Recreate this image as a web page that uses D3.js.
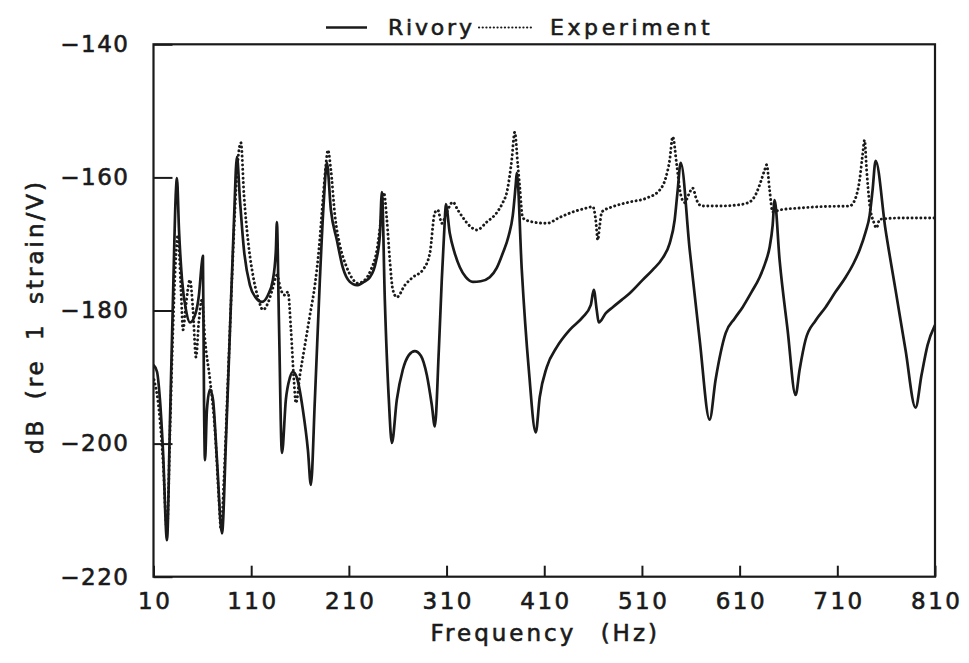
<!DOCTYPE html>
<html>
<head>
<meta charset="utf-8">
<script src="https://cdn.jsdelivr.net/npm/d3@7"></script>
<style>
  html, body { margin: 0; padding: 0; background: #fff; }
  svg { display: block; }
  text { font-family: "DejaVu Sans", sans-serif; fill: #1a1a1a; stroke: #1a1a1a; stroke-width: 0.6px; }
</style>
</head>
<body>
<svg id="chart" width="969" height="663"></svg>
<script>
// ---- data ----
const xTicks = [10, 110, 210, 310, 410, 510, 610, 710, 810];
const yTicks = [-140, -160, -180, -200, -220];
const seriesNames = ["Rivory", "Experiment"];

const rivoryHz = [10, 13.6, 16.6, 19.7, 23.8, 26.9, 29.9, 33.0, 34.0, 36.1, 39.2, 43.2, 47.3, 52.5, 56.5, 59.6, 60.6, 61.7, 62.7, 64.7, 67.8, 70.9, 75.0, 80.1, 84.2, 88.3, 92.4, 95.4, 98.5, 102.6, 108.7, 114.9, 121.0, 127.1, 132.2, 135.3, 136.3, 138.4, 141.5, 145.5, 149.6, 152.7, 156.8, 162.9, 168.1, 171.1, 175.2, 180.3, 184.4, 187.5, 191.6, 197.7, 203.9, 211.0, 218.2, 225.4, 231.5, 237.6, 241.7, 243.8, 246.8, 250.9, 254.0, 259.1, 265.2, 271.4, 277.5, 283.7, 289.8, 294.9, 298.0, 302.1, 305.1, 308.2, 309.2, 313.3, 318.4, 323.6, 329.7, 336.9, 345.0, 354.2, 361.4, 367.5, 373.7, 377.8, 380.8, 381.9, 387.0, 394.2, 401.3, 405.4, 412.6, 422.8, 436.1, 449.4, 457.6, 460.7, 463.7, 465.8, 473.0, 480.1, 489.3, 497.5, 510.8, 521.0, 531.3, 538.4, 543.5, 546.6, 549.7, 558.9, 569.1, 579.3, 585.4, 595.7, 604.9, 613.1, 622.3, 630.5, 636.6, 640.7, 643.8, 645.8, 650.9, 659.1, 667.3, 671.4, 677.5, 687.8, 698.0, 708.2, 718.5, 726.7, 732.8, 739.0, 743.1, 746.1, 749.2, 759.4, 769.6, 779.8, 790.1, 796.2, 802.4, 810];
const rivoryDb = [-188.2, -189.2, -193.4, -201.0, -214.5, -196.4, -178.4, -161.9, -160.1, -167.9, -175.4, -179.9, -181.8, -180.7, -177.7, -172.7, -171.8, -193.4, -202.5, -194.9, -191.9, -193.4, -202.5, -213.5, -199.5, -182.9, -166.4, -156.9, -163.4, -170.9, -176.2, -178.1, -178.7, -177.7, -175.4, -170.9, -166.7, -181.5, -201.4, -193.4, -190.1, -189.2, -190.1, -194.9, -201.0, -206.2, -193.4, -175.4, -163.4, -157.8, -164.9, -169.4, -173.6, -175.7, -176.2, -175.7, -175.0, -172.7, -168.7, -162.2, -178.4, -193.4, -199.9, -193.4, -188.9, -186.7, -186.1, -186.8, -189.7, -194.2, -197.4, -185.9, -175.4, -166.4, -164.0, -168.4, -171.4, -173.5, -175.0, -175.7, -175.6, -175.0, -173.6, -171.4, -168.7, -165.7, -161.1, -159.3, -173.9, -188.9, -198.3, -193.0, -188.5, -185.5, -182.9, -181.0, -179.2, -176.9, -179.9, -181.8, -180.4, -179.5, -178.4, -177.4, -175.4, -173.9, -172.1, -169.9, -166.4, -161.9, -157.8, -170.9, -184.4, -196.4, -190.4, -183.4, -181.2, -179.5, -177.2, -175.0, -172.7, -170.5, -167.2, -163.4, -172.4, -182.9, -192.7, -188.9, -184.4, -181.5, -179.5, -177.2, -175.0, -172.9, -170.9, -168.2, -165.7, -161.9, -157.5, -167.9, -176.9, -185.9, -194.6, -189.7, -185.2, -182.2];

const expHz = [10.5, 15.6, 19.7, 23.8, 26.9, 29.9, 33.0, 35.0, 38.1, 40.2, 43.2, 47.3, 50.4, 53.5, 56.5, 59.6, 62.7, 67.8, 72.9, 77.0, 79.1, 82.1, 86.2, 90.3, 94.4, 97.5, 99.5, 102.6, 106.7, 111.8, 116.9, 122.1, 127.1, 132.2, 136.3, 140.4, 144.5, 147.6, 150.7, 153.7, 155.8, 159.9, 165.0, 170.1, 175.2, 179.3, 183.4, 186.5, 188.5, 191.6, 195.7, 200.8, 207.0, 213.1, 219.2, 226.4, 232.5, 238.7, 242.8, 245.8, 248.9, 251.9, 255.0, 259.1, 267.3, 275.5, 285.7, 292.9, 298.0, 301.0, 305.1, 310.3, 316.4, 321.5, 326.6, 333.8, 341.0, 351.2, 361.4, 367.5, 371.6, 376.7, 379.8, 382.9, 384.9, 388.0, 398.2, 412.6, 425.9, 439.2, 453.5, 459.7, 462.7, 464.8, 466.8, 468.9, 480.1, 497.5, 514.9, 528.2, 534.3, 538.4, 541.5, 545.6, 549.7, 553.8, 557.8, 561.9, 566.0, 571.1, 589.5, 610.0, 620.2, 626.4, 631.5, 635.6, 637.7, 640.7, 643.8, 650.9, 671.4, 691.9, 722.6, 728.7, 732.8, 735.9, 737.9, 740.0, 743.1, 747.2, 750.2, 753.3, 773.7, 810];
const expDb = [-190.4, -194.9, -202.5, -213.0, -198.0, -182.9, -171.7, -168.7, -176.9, -182.9, -179.2, -175.4, -179.9, -187.0, -181.5, -178.4, -184.4, -190.4, -198.0, -208.5, -213.0, -205.5, -190.4, -175.4, -161.9, -155.9, -154.8, -162.6, -169.4, -174.7, -178.0, -179.9, -178.9, -176.6, -174.7, -176.9, -177.7, -177.2, -182.9, -190.4, -193.9, -189.7, -185.2, -180.7, -176.2, -170.9, -163.4, -158.1, -155.9, -158.9, -165.7, -170.2, -173.2, -175.1, -175.9, -175.4, -173.9, -170.9, -166.4, -162.3, -166.4, -172.4, -176.9, -178.0, -176.2, -175.0, -173.9, -171.4, -165.3, -164.9, -166.9, -165.2, -163.7, -164.9, -166.0, -167.3, -167.9, -166.7, -165.3, -163.8, -162.3, -157.4, -153.2, -158.1, -161.4, -166.1, -166.7, -166.9, -166.0, -165.2, -164.6, -164.4, -166.4, -169.4, -167.2, -165.2, -164.4, -163.7, -163.1, -161.9, -160.1, -157.4, -153.9, -158.1, -162.6, -163.8, -162.6, -161.6, -163.4, -164.3, -164.3, -164.1, -163.7, -162.6, -160.7, -158.9, -158.1, -161.9, -165.2, -164.9, -164.6, -164.4, -164.3, -163.1, -160.4, -156.6, -154.4, -158.9, -164.1, -166.7, -167.6, -166.3, -166.1, -166.1];

// ---- layout ----
const svg = d3.select("#chart");
const pLeft = 153.5, pRight = 935, pTop = 44.3, pBottom = 576.7;
const ink = "#1a1a1a";

const x = d3.scaleLinear().domain([10, 810]).range([pLeft, pRight]);
const y = d3.scaleLinear().domain([-220, -140]).range([pBottom, pTop]);

const rivory = rivoryHz.map((f, i) => [f, rivoryDb[i]]);
const experiment = expHz.map((f, i) => [f, expDb[i]]);

svg.append("clipPath").attr("id", "plotclip")
  .append("rect").attr("x", pLeft).attr("y", pTop).attr("width", pRight - pLeft).attr("height", pBottom - pTop);

const line = d3.line().x(d => x(d[0])).y(d => y(d[1])).curve(d3.curveMonotoneX);

const plot = svg.append("g").attr("clip-path", "url(#plotclip)");
plot.append("path").datum(experiment)
  .attr("d", line).attr("fill", "none").attr("stroke", ink)
  .attr("stroke-width", 2.9).attr("stroke-linecap", "round")
  .attr("stroke-dasharray", "0.1,4.3");
plot.append("path").datum(rivory)
  .attr("d", line).attr("fill", "none").attr("stroke", ink)
  .attr("stroke-width", 2.7).attr("stroke-linejoin", "round");

// frame
svg.append("rect").attr("x", pLeft).attr("y", pTop)
  .attr("width", pRight - pLeft).attr("height", pBottom - pTop)
  .attr("fill", "none").attr("stroke", ink).attr("stroke-width", 2.2);

// x axis (ticks inside)
const xAxis = d3.axisBottom(x).tickValues(xTicks).tickSize(-11).tickPadding(16).tickFormat(d3.format("d"));
const gx = svg.append("g").attr("transform", `translate(0,${pBottom})`).call(xAxis);
gx.select(".domain").remove();
gx.selectAll(".tick line").attr("stroke", ink).attr("stroke-width", 2);
gx.selectAll(".tick text").attr("font-size", 23).attr("letter-spacing", 2.5).attr("fill", ink)
  .attr("font-family", "DejaVu Sans").attr("dx", 1.2);

// y axis (ticks inside)
const yAxis = d3.axisLeft(y).tickValues(yTicks).tickSize(-19).tickPadding(24).tickFormat(d => "\u2212" + Math.abs(d));
const gy = svg.append("g").attr("transform", `translate(${pLeft},0)`).call(yAxis);
gy.select(".domain").remove();
gy.selectAll(".tick line").attr("stroke", ink).attr("stroke-width", 2);
gy.selectAll(".tick text").attr("font-size", 23).attr("letter-spacing", 1.5).attr("fill", ink)
  .attr("font-family", "DejaVu Sans");

// axis titles
svg.append("text").attr("x", (pLeft + pRight) / 2 + 1).attr("y", 641)
  .attr("text-anchor", "middle").attr("font-size", 23).attr("letter-spacing", 3).attr("word-spacing", 14)
  .text("Frequency (Hz)");
svg.append("text").attr("transform", `translate(43,${(pTop + pBottom) / 2 + 6}) rotate(-90)`)
  .attr("text-anchor", "middle").attr("font-size", 23).attr("letter-spacing", 3).attr("word-spacing", 8)
  .text("dB (re 1 strain/V)");

// legend
const lg = svg.append("g");
lg.append("line").attr("x1", 326).attr("x2", 367).attr("y1", 27.5).attr("y2", 27.5)
  .attr("stroke", ink).attr("stroke-width", 2.6);
lg.append("text").attr("x", 388).attr("y", 35).attr("font-size", 22).attr("letter-spacing", 2.8).text(seriesNames[0]);
lg.append("line").attr("x1", 479).attr("x2", 533).attr("y1", 27.5).attr("y2", 27.5)
  .attr("stroke", ink).attr("stroke-width", 2.2).attr("stroke-linecap", "round").attr("stroke-dasharray", "0.1,3.6");
lg.append("text").attr("x", 550).attr("y", 35).attr("font-size", 22).attr("letter-spacing", 3.6).text(seriesNames[1]);
</script>
</body>
</html>
